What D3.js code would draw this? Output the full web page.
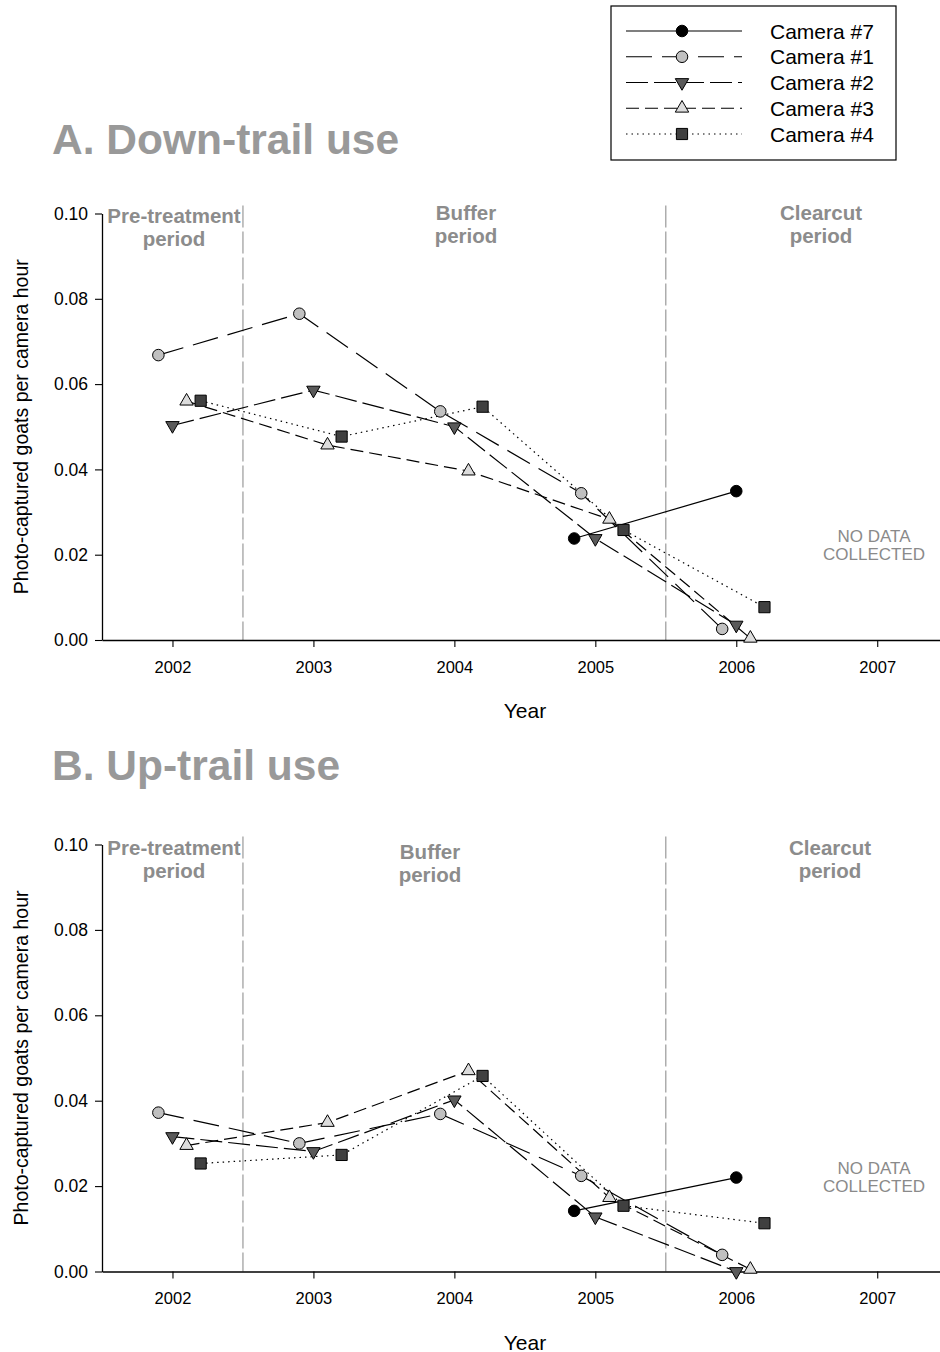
<!DOCTYPE html>
<html>
<head>
<meta charset="utf-8">
<script src="https://cdn.jsdelivr.net/npm/d3@7"></script>
<style>
  html, body { margin: 0; padding: 0; background: #fff; }
  svg { display: block; }
  text { font-family: "Liberation Sans", Arial, sans-serif; }
</style>
</head>
<body>
<svg id="chart" width="940" height="1352"></svg>
<script>
// ---- data ----
const years = [2002, 2003, 2004, 2005, 2006];
const xTickValues = [2002, 2003, 2004, 2005, 2006, 2007];
const yTickValues = [0, 0.02, 0.04, 0.06, 0.08, 0.10];
const cameraNames = ["Camera #7", "Camera #1", "Camera #2", "Camera #3", "Camera #4"];

// horizontal jitter of each camera around its survey year
const jitter1 = -0.1, jitter2 = 0.0, jitter3 = 0.1, jitter4 = 0.2;
const camera7Years = [2004.85, 2006.0];

// photo-captured goats per camera hour, down-trail direction
const downCam7 = [0.0238, 0.0349];
const downCam1 = [0.0668, 0.0765, 0.0536, 0.0344, 0.0026];
const downCam2 = [0.0503, 0.0586, 0.0500, 0.0238, 0.0035];
const downCam3 = [0.0560, 0.0457, 0.0396, 0.0283, 0.0004];
const downCam4 = [0.0561, 0.0477, 0.0547, 0.0258, 0.0077];

// photo-captured goats per camera hour, up-trail direction
const upCam7 = [0.0142, 0.0220];
const upCam1 = [0.0372, 0.0300, 0.0369, 0.0224, 0.0039];
const upCam2 = [0.0316, 0.0281, 0.0402, 0.0128, 0.0000];
const upCam3 = [0.0295, 0.0349, 0.0470, 0.0173, 0.0005];
const upCam4 = [0.0253, 0.0273, 0.0458, 0.0154, 0.0113];

// treatment period boundaries (years)
const periodBreaks = [2002.5, 2005.5];

// ---- styles per camera ----
const styles = {
  "Camera #7": { dash: null,    symbol: "circle",   fill: "#000000" },
  "Camera #1": { dash: "26,10", symbol: "circle",   fill: "#c0c0c0" },
  "Camera #2": { dash: "22,6",  symbol: "triDown",  fill: "#5a5a5a" },
  "Camera #3": { dash: "13,6",  symbol: "triUp",    fill: "#dcdcdc" },
  "Camera #4": { dash: "1.5,4", symbol: "square",   fill: "#404040" }
};

function buildSeries(c7, c1, c2, c3, c4) {
  return [
    { name: "Camera #1", pts: years.map((y, i) => ({ x: y + jitter1, v: c1[i] })) },
    { name: "Camera #2", pts: years.map((y, i) => ({ x: y + jitter2, v: c2[i] })) },
    { name: "Camera #3", pts: years.map((y, i) => ({ x: y + jitter3, v: c3[i] })) },
    { name: "Camera #4", pts: years.map((y, i) => ({ x: y + jitter4, v: c4[i] })) },
    { name: "Camera #7", pts: camera7Years.map((y, i) => ({ x: y, v: c7[i] })) }
  ];
}

const svg = d3.select("#chart");
const FONT_GRAY = "#999999";

function symbolPath(kind) {
  if (kind === "circle") return d3.symbol(d3.symbolCircle, 105)();
  if (kind === "square") return d3.symbol(d3.symbolSquare, 125)();
  return d3.symbol(d3.symbolTriangle, 78)();
}

function drawMarker(sel, kind, fill) {
  return sel.append("path")
    .attr("d", symbolPath(kind))
    .attr("fill", fill)
    .attr("stroke", "#000")
    .attr("stroke-width", 1);
}

function drawPanel(opt) {
  const x = d3.scaleLinear().domain([2001.5, 2007.5]).range([102, 947.7]);
  const y = d3.scaleLinear().domain([0, 0.10]).range([opt.bottom, opt.top]);
  const g = svg.append("g");

  // panel title
  g.append("text")
    .attr("x", 52).attr("y", opt.titleY)
    .attr("font-size", 42.5).attr("font-weight", "bold")
    .attr("fill", FONT_GRAY)
    .text(opt.title);

  // period boundaries
  periodBreaks.forEach(b => {
    g.append("line")
      .attr("x1", x(b)).attr("x2", x(b))
      .attr("y1", opt.top - 8).attr("y2", opt.bottom)
      .attr("stroke", "#9a9a9a").attr("stroke-width", 1.2)
      .attr("stroke-dasharray", "22,4");
  });

  // period labels
  opt.periods.forEach(p => {
    const t = g.append("text")
      .attr("text-anchor", "middle")
      .attr("font-size", 20.5).attr("font-weight", "bold")
      .attr("fill", "#8c8c8c");
    t.append("tspan").attr("x", p.x).attr("y", opt.top + p.dy).text(p.l1);
    t.append("tspan").attr("x", p.x).attr("y", opt.top + p.dy + 23).text(p.l2);
  });

  // no-data note
  const nd = g.append("text")
    .attr("text-anchor", "middle")
    .attr("font-size", 17)
    .attr("fill", "#8a8a8a");
  nd.append("tspan").attr("x", 874).attr("y", opt.bottom - 98).text("NO DATA");
  nd.append("tspan").attr("x", 874).attr("y", opt.bottom - 80).text("COLLECTED");

  // axes
  const yAxis = d3.axisLeft(y).tickValues(yTickValues).tickFormat(d3.format(".2f"))
    .tickSize(7).tickSizeOuter(0).tickPadding(7);
  const yg = g.append("g").attr("transform", `translate(${x.range()[0]},0)`).call(yAxis);
  yg.select(".domain").attr("stroke-width", 1.3);
  yg.selectAll(".tick line").attr("stroke-width", 1.1);
  yg.selectAll(".tick text").attr("font-size", 17.5).attr("fill", "#000")
    .attr("font-family", "Liberation Sans, Arial, sans-serif");

  const xAxis = d3.axisBottom(x).tickValues(xTickValues).tickFormat(d3.format("d"))
    .tickSize(7).tickSizeOuter(0).tickPadding(14);
  const xg = g.append("g").attr("transform", `translate(0,${opt.bottom})`).call(xAxis);
  xg.select(".domain").attr("stroke-width", 1.7);
  xg.selectAll(".tick line").attr("stroke-width", 1.1);
  xg.selectAll(".tick text").attr("font-size", 16.5).attr("fill", "#000")
    .attr("font-family", "Liberation Sans, Arial, sans-serif");

  // axis titles
  g.append("text")
    .attr("transform", `translate(28,${(opt.top + opt.bottom) / 2}) rotate(-90)`)
    .attr("text-anchor", "middle")
    .attr("font-size", 19.5)
    .text("Photo-captured goats per camera hour");
  g.append("text")
    .attr("x", 525).attr("y", opt.bottom + 78)
    .attr("text-anchor", "middle")
    .attr("font-size", 21)
    .text("Year");

  // series lines
  const line = d3.line().x(d => x(d.x)).y(d => y(d.v));
  opt.series.forEach(s => {
    const st = styles[s.name];
    g.append("path")
      .attr("d", line(s.pts))
      .attr("fill", "none")
      .attr("stroke", "#000")
      .attr("stroke-width", 1.2)
      .attr("stroke-dasharray", st.dash);
  });

  // series markers
  opt.series.forEach(s => {
    const st = styles[s.name];
    s.pts.forEach(d => {
      const m = drawMarker(g, st.symbol, st.fill);
      const rot = st.symbol === "triDown" ? " rotate(180)" : "";
      m.attr("transform", `translate(${x(d.x)},${y(d.v)})${rot}`);
    });
  });
}

// ---- legend ----
function drawLegend() {
  const g = svg.append("g");
  g.append("rect")
    .attr("x", 611).attr("y", 6).attr("width", 285).attr("height", 154)
    .attr("fill", "#fff").attr("stroke", "#000").attr("stroke-width", 1.2);
  const rowY = d3.scalePoint().domain(cameraNames).range([31, 134]);
  cameraNames.forEach(name => {
    const st = styles[name];
    const cy = rowY(name);
    g.append("line")
      .attr("x1", 626).attr("x2", 742).attr("y1", cy).attr("y2", cy)
      .attr("stroke", "#000").attr("stroke-width", 1.2)
      .attr("stroke-dasharray", st.dash);
    const m = drawMarker(g, st.symbol, st.fill);
    const rot = st.symbol === "triDown" ? " rotate(180)" : "";
    m.attr("transform", `translate(682,${cy})${rot}`);
    g.append("text")
      .attr("x", 770).attr("y", cy)
      .attr("dy", "0.36em")
      .attr("font-size", 21)
      .text(name);
  });
}

drawPanel({
  title: "A. Down-trail use", titleY: 154,
  top: 213.5, bottom: 640,
  periods: [
    { x: 174, dy: 9, l1: "Pre-treatment", l2: "period" },
    { x: 466, dy: 6, l1: "Buffer", l2: "period" },
    { x: 821, dy: 6, l1: "Clearcut", l2: "period" }
  ],
  series: buildSeries(downCam7, downCam1, downCam2, downCam3, downCam4)
});

drawPanel({
  title: "B. Up-trail use", titleY: 780,
  top: 844.5, bottom: 1271.5,
  periods: [
    { x: 174, dy: 10, l1: "Pre-treatment", l2: "period" },
    { x: 430, dy: 14, l1: "Buffer", l2: "period" },
    { x: 830, dy: 10, l1: "Clearcut", l2: "period" }
  ],
  series: buildSeries(upCam7, upCam1, upCam2, upCam3, upCam4)
});

drawLegend();
</script>
</body>
</html>
